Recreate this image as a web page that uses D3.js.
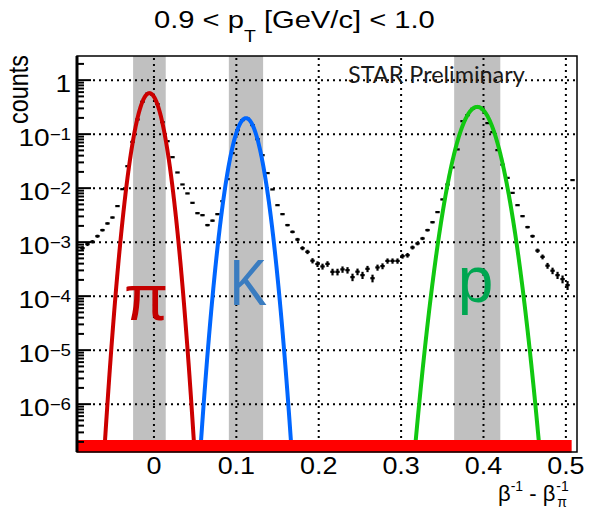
<!DOCTYPE html>
<html><head><meta charset="utf-8">
<script src="https://cdn.jsdelivr.net/npm/d3@7"></script>
<style>body{margin:0;background:#fff}svg{display:block}</style>
</head><body>
<svg id="c" width="596" height="512"></svg>
<script>
// ---- data ----
const binLow = -0.0898;      // lower edge of first bin
const binWidth = 0.00607;    // bin width
const counts = [
 7.74e-4, 9.18e-4, 1.02e-3, 1.29e-3, 1.67e-3, 2.22e-3, 2.86e-3, 4.65e-3, 9.57e-3, 2.55e-2,
 7.19e-2, 0.187, 0.398, 0.562, 0.537, 0.360, 0.167, 7.41e-2, 3.75e-2, 1.95e-2,
 1.17e-2, 7.98e-3, 5.35e-3, 3.44e-3, 3.16e-3, 2.07e-3, 2.50e-3, 3.30e-3, 5.74e-3, 1.47e-2,
 4.45e-2, 0.119, 0.182, 0.194, 0.147, 8.07e-2, 4.08e-2, 1.90e-2, 9.46e-3, 4.84e-3,
 3.30e-3, 2.07e-3, 1.55e-3, 1.12e-3, 7.74e-4, 6.61e-4, 4.54e-4, 3.94e-4, 3.55e-4, 3.96e-4,
 2.82e-4, 2.82e-4, 3.13e-4, 3.03e-4, 2.25e-4, 2.84e-4, 2.45e-4, 3.21e-4, 2.15e-4, 3.40e-4,
 3.60e-4, 4.49e-4, 4.49e-4, 4.49e-4, 5.51e-4, 5.74e-4, 7.98e-4, 9.46e-4, 1.17e-3, 1.67e-3,
 2.34e-3, 3.60e-3, 6.18e-3, 1.17e-2, 2.42e-2, 5.21e-2, 0.174, 0.225, 0.294, 0.321,
 0.290, 0.160, 0.109, 5.06e-2, 2.72e-2, 1.55e-2, 8.18e-3, 4.84e-3, 3.03e-3, 1.90e-3,
 1.29e-3, 6.97e-4, 5.35e-4, 3.67e-4, 2.96e-4, 2.45e-4, 2.07e-4, 1.60e-4, 1.41e-2
];
const totalEntries = 1.77e5;  // normalisation used for Poisson error bars

const species     = ["π", "K", "p"];
const peakMean    = [-0.0055, 0.1117, 0.3924];
const peakSigma   = [0.0099, 0.0104, 0.0140];
const peakHeight  = [0.575, 0.198, 0.320];
const bandLo      = [-0.0253, 0.0909, 0.3644];
const bandHi      = [0.0143, 0.1325, 0.4204];
const curveColor  = ["#cc0000", "#0066ff", "#11c811"];
const labelColor  = ["#c40000", "#3a7cc0", "#00a651"];

const xTicks = [0, 0.1, 0.2, 0.3, 0.4, 0.5];
const xTickLabels = ["0", "0.1", "0.2", "0.3", "0.4", "0.5"];
const yMajorExp = [0, -1, -2, -3, -4, -5, -6];
const xDomain = [-0.0934, 0.5135];
const yDomain = [1.3e-7, 2.8];
const redBarEnd = 0.507;

// ---- layout ----
const P = {l: 77, t: 56, r: 577, b: 452};
const SX = 1.17;  // horizontal stretch of the reference's text
const x = d3.scaleLinear().domain(xDomain).range([P.l, P.r]);
const y = d3.scaleLog().domain(yDomain).range([P.b, P.t]);
const svg = d3.select("#c");
const FONT = "'Liberation Sans', Arial, Helvetica, sans-serif";

function sText(px, py, anchor, size, sx) {
  return svg.append("g").attr("transform", `translate(${px},${py}) scale(${sx},1)`)
    .append("text").attr("x", 0).attr("y", 0).attr("text-anchor", anchor)
    .attr("font-family", FONT).attr("font-size", size).attr("fill", "#000");
}

svg.append("defs").append("clipPath").attr("id", "clip")
  .append("rect").attr("x", P.l).attr("y", P.t).attr("width", P.r - P.l).attr("height", P.b - P.t);

const plot = svg.append("g").attr("clip-path", "url(#clip)");

// bands
plot.selectAll("rect.band").data(species).join("rect").attr("class", "band")
  .attr("x", (d, i) => x(bandLo[i])).attr("width", (d, i) => x(bandHi[i]) - x(bandLo[i]))
  .attr("y", P.t).attr("height", P.b - P.t).attr("fill", "#c0c0c0");

// grid
const grid = plot.append("g").attr("stroke", "#000").attr("stroke-width", 2).attr("stroke-dasharray", "2,4");
grid.selectAll("line.gx").data(xTicks).join("line").attr("class", "gx")
  .attr("x1", d => x(d)).attr("x2", d => x(d)).attr("y1", P.t + 2).attr("y2", P.b);
grid.selectAll("line.gy").data(yMajorExp).join("line").attr("class", "gy")
  .attr("x1", P.l + 16).attr("x2", P.r).attr("y1", d => y(Math.pow(10, d))).attr("y2", d => y(Math.pow(10, d)));

// data points
const pts = counts.map((v, i) => ({c: binLow + (i + 0.5) * binWidth, v, e: Math.sqrt(v * totalEntries) / totalEntries}));
const dp = plot.append("g").attr("stroke", "#000").attr("stroke-width", 2.2);
dp.selectAll("line.h").data(pts).join("line").attr("class", "h")
  .attr("x1", d => x(d.c - binWidth / 2) + 0.3).attr("x2", d => x(d.c + binWidth / 2) - 0.3)
  .attr("y1", d => y(d.v)).attr("y2", d => y(d.v));
dp.selectAll("line.v").data(pts).join("line").attr("class", "v")
  .attr("x1", d => x(d.c)).attr("x2", d => x(d.c))
  .attr("y1", d => y(d.v + d.e)).attr("y2", d => y(Math.max(d.v - d.e, 1e-9)));

// gaussian fit curves
species.forEach((s, i) => {
  const n = 400, m = peakMean[i], sg = peakSigma[i];
  const xs = d3.range(n + 1).map(k => m - 7 * sg + 14 * sg * k / n);
  const line = d3.line().x(d => x(d)).y(d => y(Math.max(peakHeight[i] * Math.exp(-0.5 * ((d - m) / sg) ** 2), 1e-9)));
  plot.append("path").attr("d", line(xs)).attr("fill", "none")
    .attr("stroke", curveColor[i]).attr("stroke-width", 4);
});

// red bar at the bottom
svg.append("rect").attr("x", P.l).attr("y", P.b - 12).attr("width", x(redBarEnd) - P.l).attr("height", 12.5)
  .attr("fill", "#ff0000");

// frame
svg.append("rect").attr("x", P.l).attr("y", P.t).attr("width", P.r - P.l).attr("height", P.b - P.t)
  .attr("fill", "none").attr("stroke", "#000").attr("stroke-width", 1.5);
svg.append("line").attr("x1", P.l).attr("x2", P.l).attr("y1", P.t).attr("y2", P.b)
  .attr("stroke", "#000").attr("stroke-width", 3);

// y ticks
const yt = svg.append("g").attr("stroke", "#000").attr("stroke-width", 2);
yt.selectAll("line.maj").data(yMajorExp).join("line").attr("class", "maj")
  .attr("x1", P.l).attr("x2", P.l + 14).attr("y1", d => y(Math.pow(10, d))).attr("y2", d => y(Math.pow(10, d)));
const minors = [];
for (let e = -7; e <= 0; e++) for (let k = 2; k <= 9; k++) {
  const v = k * Math.pow(10, e);
  if (v > yDomain[0] && v < yDomain[1]) minors.push(v);
}
yt.selectAll("line.min").data(minors).join("line").attr("class", "min")
  .attr("x1", P.l).attr("x2", P.l + 7).attr("y1", d => y(d)).attr("y2", d => y(d));

// y tick labels
yMajorExp.forEach(e => {
  const t = sText(71, y(Math.pow(10, e)) + 12, "end", 24, SX);
  if (e === 0) { t.text("1"); }
  else {
    t.append("tspan").text("10");
    t.append("tspan").attr("font-size", 16).attr("dy", -6).text("−" + (-e));
  }
});

// x tick labels
xTicks.forEach((d, i) => sText(x(d), 474, "middle", 23, SX).text(xTickLabels[i]));

// axis titles
svg.append("text").attr("transform", `translate(28,55) scale(${SX},1) rotate(-90)`).attr("text-anchor", "end")
  .attr("font-family", FONT).attr("font-size", 23.4).text("counts");

const xt = svg.append("g").attr("font-family", FONT).attr("fill", "#000");
const t1 = xt.append("text").attr("x", 0).attr("y", 501).attr("font-size", 22);
t1.append("tspan").text("β");
t1.append("tspan").attr("font-size", 14).attr("dy", -10).text("-1");
t1.append("tspan").attr("dy", 10).text(" - β");
const w1 = t1.node().getComputedTextLength();
xt.append("text").attr("x", w1 + 1).attr("y", 491).attr("font-size", 14).text("-1");
xt.append("text").attr("x", w1 + 2).attr("y", 507).attr("font-size", 14).text("π");
const bb = xt.node().getBBox();
xt.attr("transform", `translate(${569 - (bb.x + bb.width)},0)`);

// title (stretched to span the reference width)
const tg = svg.append("g");
const tt = tg.append("text").attr("x", 0).attr("y", 0).attr("font-family", FONT).attr("font-size", 24);
tt.append("tspan").text("0.9 < p");
tt.append("tspan").attr("font-size", 16).attr("dy", 14).text("T");
tt.append("tspan").attr("dy", -14).text(" [GeV/c] < 1.0");
const tbb = tt.node().getBBox();
const tsx = 281 / tbb.width;
tg.attr("transform", `translate(${154 - tbb.x * tsx},28) scale(${tsx},1)`);

// STAR Preliminary
const sg = svg.append("g");
const star = sg.append("text").attr("x", 0).attr("y", 0).attr("font-family", "Lato, 'Open Sans', sans-serif")
  .attr("font-size", 23).attr("fill", "#1a1a1a").text("STAR Preliminary");
const sbb = star.node().getBBox();
const ssx = 177 / sbb.width;
sg.attr("transform", `translate(${348 - sbb.x * ssx},83) scale(${ssx},1)`);

// species labels
const labX = [-0.0095, 0.1145, 0.3905];
const labY = [320, 305, 302];
const labSX = [1, 0.88, 1];
species.forEach((s, i) => {
  svg.append("g").attr("transform", `translate(${x(labX[i])},${labY[i]}) scale(${labSX[i]},1)`)
    .append("text").attr("text-anchor", "middle")
    .attr("font-family", FONT).attr("font-size", 64).attr("fill", labelColor[i]).text(s);
});
</script>
</body></html>
